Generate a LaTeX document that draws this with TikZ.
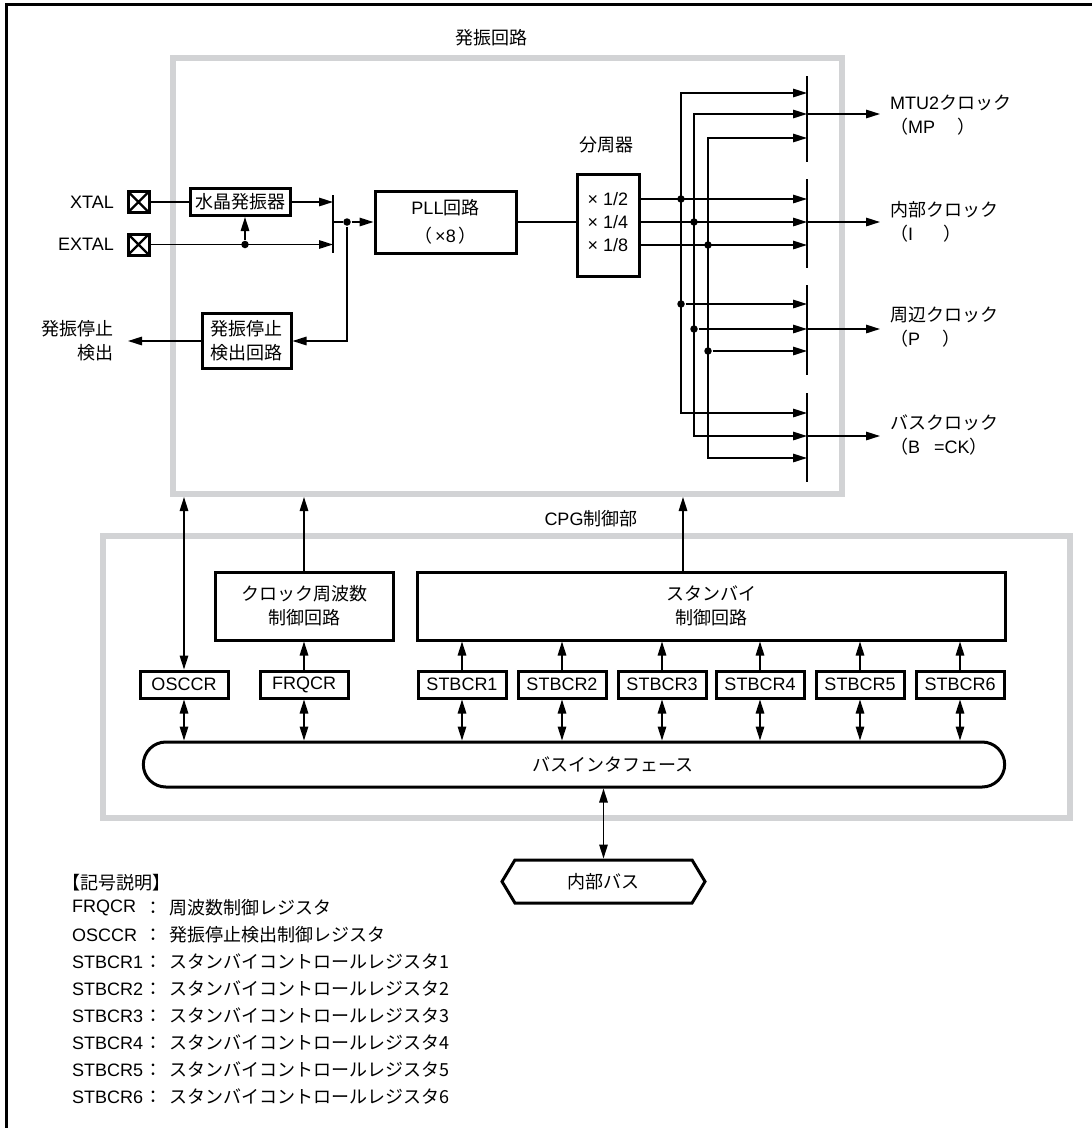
\documentclass[tikz,border=0pt]{standalone}
\usepackage{fontspec}
\setmainfont{Noto Sans CJK JP}
\newfontfamily\hv{Liberation Sans}
\usetikzlibrary{arrows.meta,shapes.misc,shapes.symbols}

\tikzset{every picture/.style={line width=1.5pt}}
\tikzset{
  blk/.style={draw,line width=3pt,fill=white,inner sep=0pt,align=center},
  reg/.style={blk,minimum width=88pt,minimum height=27pt},
  grayfr/.style={draw={rgb,255:red,210;green,211;blue,213},line width=6pt,inner sep=0pt},
  pad/.style={draw,line width=3pt,minimum size=21pt,inner sep=0pt,
    path picture={\draw[line width=2.4pt] (path picture bounding box.north west) -- (path picture bounding box.south east)
      (path picture bounding box.north east) -- (path picture bounding box.south west);}},
  arr/.style={-{Triangle[length=14pt,width=8.5pt]}},
  darr/.style={{Triangle[length=14pt,width=8.5pt]}-{Triangle[length=14pt,width=8.5pt]}},
  dot/.style={circle,fill,inner sep=0pt,minimum size=7.5pt},
  bar/.style={line width=1.8pt},
}

\begin{document}
\begin{tikzpicture}[x=1pt,y=1pt,yscale=-1,xscale=1,font=\fontsize{18}{24}\selectfont]
	\useasboundingbox (0,0) rectangle (1092,1128);

	%Frame
	\draw [line width=3pt] (6,1128) -- (6,4) -- (1092,4) ;

	%Shape: gray frames
	\node [grayfr,minimum width=669pt,minimum height=436pt] (oscc) at (507.5,276) {};
	\node [grayfr,minimum width=967pt,minimum height=282pt] (cpg) at (586.5,677) {};
	% Text Node
	\node (osccl) at (491,38) {発振回路};
	% Text Node
	\node (cpgl) at (591,519) {{\hv CPG}制御部};

	%Pads
	\node [pad] (xtal) at (138.5,202) {};
	\node [pad] (extal) at (138.5,244.5) {};
	\node [anchor=east] (xtall) at (118,202) {\hv XTAL};
	\node [anchor=east] (extall) at (118,244.5) {\hv EXTAL};

	%Shape: Rectangle
	\node [blk,minimum width=100pt,minimum height=27pt] (xosc) at (240,202) {水晶発振器};
	\node [blk,minimum width=141pt,minimum height=62pt] (pll) at (445.5,222) {{\hv PLL}回路\\[4pt]（\,{\hv ×8}\,）};
	\node [blk,minimum width=89pt,minimum height=55pt] (stp) at (246.5,341) {発振停止\\検出回路};
	\node [blk,minimum width=62pt,minimum height=102pt] (div) at (608,225) {};
	\node (dv2) at (608,199) {\hv × 1/2};
	\node (dv4) at (608,222) {\hv × 1/4};
	\node (dv8) at (608,245) {\hv × 1/8};
	% Text Node
	\node (divl) at (606,145) {分周器};

	%Straight Lines: selector bar
	\coordinate (sb1) at (333,195);
	\coordinate (sb2) at (333,253);
	\draw [bar] (sb1) -- (sb2) ;
	\draw (xtal.east) -- (xosc.west) ;
	\draw [arr] (xosc.east) -- (xosc.east -| sb1) ;
	\draw [arr] (extal.east) -- (extal.east -| sb1) ;
	\node [dot] (j1) at (245,244.5) {};
	\draw [arr] (j1) -- (j1 |- xosc.south) ;
	\node [dot] (j2) at (347,222) {};
	\draw (sb1 |- j2) -- (j2) ;
	\draw [arr] (j2) -- (pll.west) ;
	\draw [arr] (j2) |- (stp.east) ;
	\coordinate (stpo) at (128,341);
	\draw [arr] (stp.west) -- (stpo) ;
	\node [anchor=east,align=right] (stpl) at (118,341) {発振停止\\検出};
	\draw (pll.east) -- (pll.east -| div.west) ;

	%Straight Lines: clock bars
	\coordinate (bx) at (807,0);
	\draw [bar] (807,76) -- (807,162) ;
	\draw [bar] (807,179) -- (807,268) ;
	\draw [bar] (807,285) -- (807,375) ;
	\draw [bar] (807,393) -- (807,482) ;

	%Divider outputs
	\draw [arr] (dv2 -| div.east) -- (dv2 -| bx) ;
	\draw [arr] (dv4 -| div.east) -- (dv4 -| bx) ;
	\draw [arr] (dv8 -| div.east) -- (dv8 -| bx) ;
	\node [dot] (d1) at (681,199) {};
	\node [dot] (d2) at (694,222) {};
	\node [dot] (d3) at (708,245) {};
	\node [dot] (d4) at (681,304) {};
	\node [dot] (d5) at (694,329) {};
	\node [dot] (d6) at (708,351) {};
	\draw [darr] (bx |- 0,93) -- (681,93) -- (681,413) -- (bx |- 0,413) ;
	\draw [darr] (bx |- 0,114) -- (694,114) -- (694,436) -- (bx |- 0,436) ;
	\draw [darr] (bx |- 0,138) -- (708,138) -- (708,458) -- (bx |- 0,458) ;
	\draw [arr] (d4) -- (d4 -| bx) ;
	\draw [arr] (d5) -- (d5 -| bx) ;
	\draw [arr] (d6) -- (d6 -| bx) ;

	%Clock outputs
	\coordinate (o1) at (880,114);
	\coordinate (o2) at (880,222);
	\coordinate (o3) at (880,329);
	\coordinate (o4) at (880,436);
	\draw [arr] (o1 -| bx) -- (o1) ;
	\draw [arr] (o2 -| bx) -- (o2) ;
	\draw [arr] (o3 -| bx) -- (o3) ;
	\draw [arr] (o4 -| bx) -- (o4) ;
	% Text Node
	\node [anchor=west,align=left] (mtul) at (886,115) {{\hv MTU2}クロック\\（{\hv MP}\hspace{22pt}）};
	% Text Node
	\node [anchor=west,align=left] (intl) at (886,222) {内部クロック\\（{\hv I}\hspace{30pt}）};
	% Text Node
	\node [anchor=west,align=left] (perl) at (886,327.5) {周辺クロック\\（{\hv P}\hspace{22pt}）};
	% Text Node
	\node [anchor=west,align=left] (busl) at (886,434.5) {バスクロック\\（{\hv B\hspace{14pt}=CK}）};

	%CPG control
	\node [blk,minimum width=178pt,minimum height=68pt] (frq) at (304,606) {クロック周波数\\制御回路};
	\node [blk,minimum width=588pt,minimum height=68pt] (stb) at (711,606) {スタンバイ\\制御回路};
	\node [reg] (osccr) at (184,684.5) {\hv OSCCR};
	\node [reg] (frqcr) at (304,684.5) {\hv FRQCR};
	\foreach \i/\xx in {1/462,2/562,3/662,4/760,5/860,6/960}
		\node [reg] (stbcr\i) at (\xx,684.5) {\hv STBCR\i};
	%Shape: Bus interface
	\node [draw,line width=3pt,rounded rectangle,minimum width=868pt,minimum height=45pt] (bif) at (574,764.5) {};
	\node (bift) at (613,765) {バスインタフェース};

	\draw [darr] (osccr.north) -- (osccr.north |- oscc.south) ;
	\draw [arr] (frq.north) -- (frq.north |- oscc.south) ;
	\draw [arr] ([xshift=-28pt]stb.north) -- ([xshift=-28pt]stb.north |- oscc.south) ;
	\draw [arr] (frqcr.north) -- (frq.south) ;
	\draw [darr] (osccr.south) -- (osccr.south |- bif.north) ;
	\draw [darr] (frqcr.south) -- (frqcr.south |- bif.north) ;
	\foreach \i in {1,...,6} {
		\draw [arr] (stbcr\i.north) -- (stbcr\i.north |- stb.south) ;
		\draw [darr] (stbcr\i.south) -- (stbcr\i.south |- bif.north) ;
	}

	%Shape: Internal bus
	\node [draw,line width=3pt,signal,signal to=west and east,signal pointer angle=118,minimum width=203pt,minimum height=43pt] (ibus) at (603.5,881.5) {内部バス};
	\draw [darr] (ibus.north |- bif.south) -- (ibus.north) ;

	%Legend
	\node [anchor=west] (lgt) at (58,883) {【記号説明】};
	\foreach \nm/\ds [count=\i] in {FRQCR/周波数制御レジスタ,OSCCR/発振停止検出制御レジスタ,STBCR1/スタンバイコントロールレジスタ1,STBCR2/スタンバイコントロールレジスタ2,STBCR3/スタンバイコントロールレジスタ3,STBCR4/スタンバイコントロールレジスタ4,STBCR5/スタンバイコントロールレジスタ5,STBCR6/スタンバイコントロールレジスタ6} {
		\node [anchor=west] (lg\i) at (68,881+27*\i) {\hv\nm};
		\node (lc\i) at (153,881+27*\i) {：};
		\node [anchor=west] (ld\i) at (165,881+27*\i) {\ds};
	}

\end{tikzpicture}
\end{document}
